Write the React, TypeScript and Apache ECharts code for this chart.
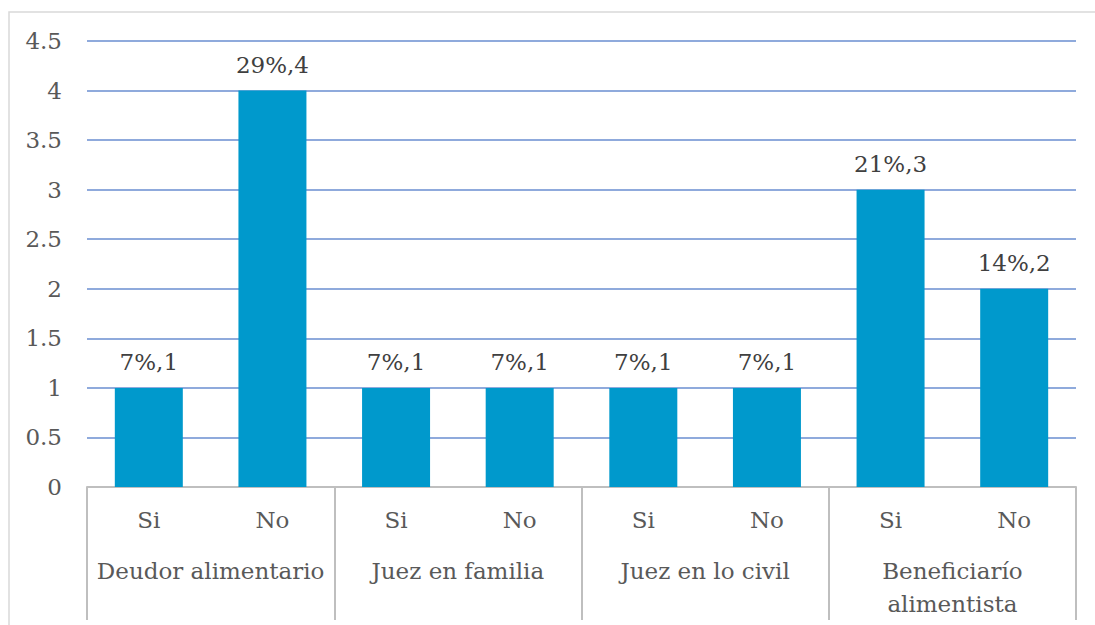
import React, { useEffect, useRef } from "react";
import * as echarts from "echarts";

const subLabels = ["Si", "No", "Si", "No", "Si", "No", "Si", "No"];
const groupLabels = ["Deudor alimentario", "Juez en familia", "Juez en lo civil", "Beneficiarío\nalimentista"];
const values = [1, 4, 1, 1, 1, 1, 3, 2];
const percents = ["7%", "29%", "7%", "7%", "7%", "7%", "21%", "14%"];

const FONT = "'DejaVu Serif', serif";
const FS = 23;

export default function App() {
  const ref = useRef<HTMLDivElement>(null);
  useEffect(() => {
    if (!ref.current) return;
    const chart = echarts.init(ref.current, undefined, { renderer: "svg" });
    chart.setOption({
      animation: false,
      backgroundColor: "#ffffff",
      textStyle: { fontFamily: FONT },
      grid: { left: 87, right: 19, top: 41, bottom: 138, containLabel: false },
      graphic: [
        {
          type: "rect",
          z: -10,
          shape: { x: 9, y: 12, width: 1200, height: 700 },
          style: { fill: "none", stroke: "#D9D9D9", lineWidth: 1.5 },
        },
      ],
      xAxis: [
        {
          type: "category",
          data: subLabels,
          position: "bottom",
          axisLine: { show: true, lineStyle: { color: "#BFBFBF", width: 2 } },
          axisTick: { show: false },
          axisLabel: { interval: 0, margin: 21, fontSize: FS, color: "#595959", fontFamily: FONT },
          splitLine: { show: false },
        },
        {
          type: "category",
          data: groupLabels,
          position: "bottom",
          offset: 0,
          axisLine: { show: false },
          axisTick: { show: true, length: 133, interval: 0, lineStyle: { color: "#BFBFBF", width: 2 } },
          axisLabel: { interval: 0, margin: 67, fontSize: FS, lineHeight: 33, color: "#595959", fontFamily: FONT },
          splitLine: { show: false },
        },
      ],
      yAxis: {
        type: "value",
        min: 0,
        max: 4.5,
        interval: 0.5,
        axisLine: { show: false },
        axisTick: { show: false },
        axisLabel: { margin: 25, fontSize: FS, color: "#595959", fontFamily: FONT },
        splitLine: { show: true, lineStyle: { color: "#8FAADC", width: 2 } },
      },
      series: [
        {
          type: "bar",
          xAxisIndex: 0,
          data: values,
          barWidth: "55%",
          itemStyle: { color: "#0099CC" },
          label: {
            show: true,
            position: "top",
            distance: 14,
            fontSize: FS,
            color: "#404040",
            fontFamily: FONT,
            formatter: (p: any) => percents[p.dataIndex] + "," + p.value,
          },
        },
      ],
    });
    return () => chart.dispose();
  }, []);
  return <div ref={ref} style={{ position: "absolute", left: 0, top: 0, width: 1095, height: 625 }} />;
}
